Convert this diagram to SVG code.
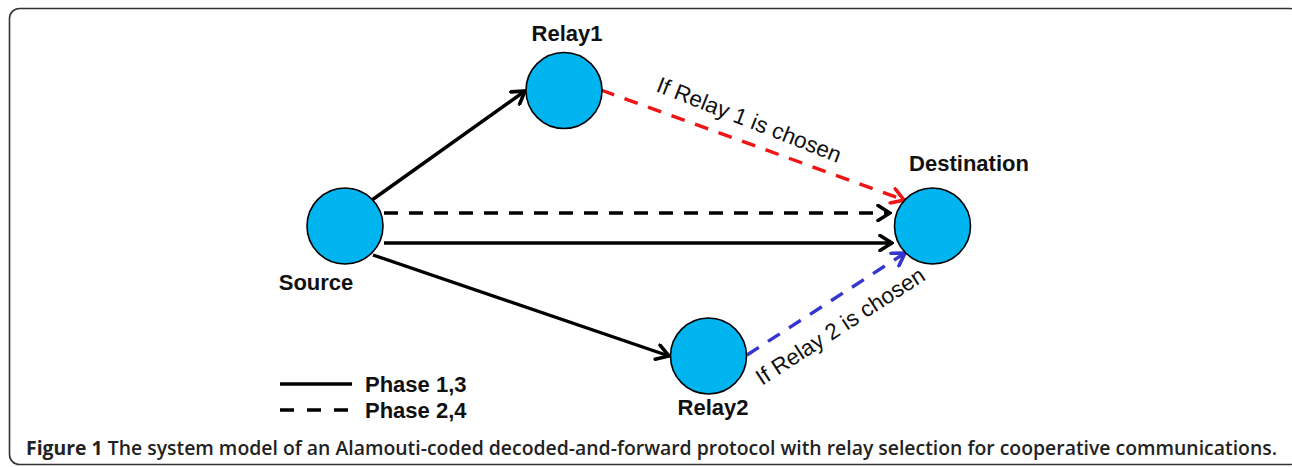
<svg xmlns="http://www.w3.org/2000/svg" width="1292" height="467" viewBox="0 0 1292 467">
<style>
.node{fill:#00b4f0;stroke:#000;stroke-width:1.6}
.lbl{font-family:"Liberation Sans",Arial,sans-serif;font-weight:bold;font-size:22px;fill:#111}
.edge{fill:none;stroke:#000;stroke-width:3.4}
.dash{stroke-dasharray:14 11}
.note{font-family:"Liberation Sans",Arial,sans-serif;font-size:22.5px;fill:#111}
.cap{font-family:"Open Sans","Noto Sans",sans-serif;font-size:19px;fill:#222}
</style>
<defs>
<marker id="ab" markerUnits="userSpaceOnUse" viewBox="-14 -9 16 18" refX="0" refY="0" markerWidth="16" markerHeight="18" orient="auto">
<path d="M-12,-7.5 L0,0 L-12,7.5" fill="none" stroke="#000" stroke-width="3.6" stroke-linecap="round" stroke-linejoin="miter"/>
</marker>
<marker id="ar" markerUnits="userSpaceOnUse" viewBox="-14 -9 16 18" refX="0" refY="0" markerWidth="16" markerHeight="18" orient="auto">
<path d="M-12,-7.5 L0,0 L-12,7.5" fill="none" stroke="#f01515" stroke-width="3.6" stroke-linecap="round"/>
</marker>
<marker id="au" markerUnits="userSpaceOnUse" viewBox="-14 -9 16 18" refX="0" refY="0" markerWidth="16" markerHeight="18" orient="auto">
<path d="M-12,-7.5 L0,0 L-12,7.5" fill="none" stroke="#3535cf" stroke-width="3.6" stroke-linecap="round"/>
</marker>
</defs>
<rect x="0" y="0" width="1292" height="467" fill="#fff"/>
<rect x="9.5" y="8.5" width="1290" height="456" rx="10" fill="none" stroke="#333" stroke-width="1.6"/>
<g id="connectors">
<line class="edge" x1="372" y1="200" x2="525" y2="91" marker-end="url(#ab)"/>
<line class="edge dash" x1="384" y1="213" x2="890" y2="213" marker-end="url(#ab)"/>
<line class="edge" x1="384" y1="243" x2="892" y2="243" marker-end="url(#ab)"/>
<line class="edge" x1="373" y1="255" x2="669" y2="356" marker-end="url(#ab)"/>
<line class="edge dash" style="stroke:#f01515" x1="601" y1="90" x2="904" y2="200" marker-end="url(#ar)"/>
<line class="edge dash" style="stroke:#3535cf" x1="747" y1="355" x2="905" y2="253" marker-end="url(#au)"/>
<text class="note" transform="translate(655,91) rotate(21.5)">If Relay 1 is chosen</text>
<text class="note" transform="translate(762,386) rotate(-33)">If Relay 2 is chosen</text>
</g>
<g id="source">
<circle class="node" cx="345" cy="226" r="38"/>
<text class="lbl" x="316" y="290" text-anchor="middle">Source</text>
</g>
<g id="relay1">
<circle class="node" cx="564" cy="90.5" r="38"/>
<text class="lbl" x="567" y="41" text-anchor="middle">Relay1</text>
</g>
<g id="relay2">
<circle class="node" cx="708.5" cy="356" r="38"/>
<text class="lbl" x="713" y="415" text-anchor="middle">Relay2</text>
</g>
<g id="destination">
<circle class="node" cx="932.5" cy="226" r="38"/>
<text class="lbl" x="969" y="171" text-anchor="middle">Destination</text>
</g>
<g id="legend">
<line class="edge" x1="280" y1="384" x2="352" y2="384"/>
<text class="lbl" x="365" y="392">Phase 1,3</text>
<line class="edge" x1="280" y1="410" x2="352" y2="410" style="stroke-dasharray:14 13"/>
<text class="lbl" x="365" y="418">Phase 2,4</text>
</g>
<text class="cap" x="26" y="455" textLength="1251" lengthAdjust="spacingAndGlyphs"><tspan font-weight="700">Figure 1</tspan><tspan font-weight="600"> The system model of an Alamouti-coded decoded-and-forward protocol with relay selection for cooperative communications.</tspan></text>
</svg>
